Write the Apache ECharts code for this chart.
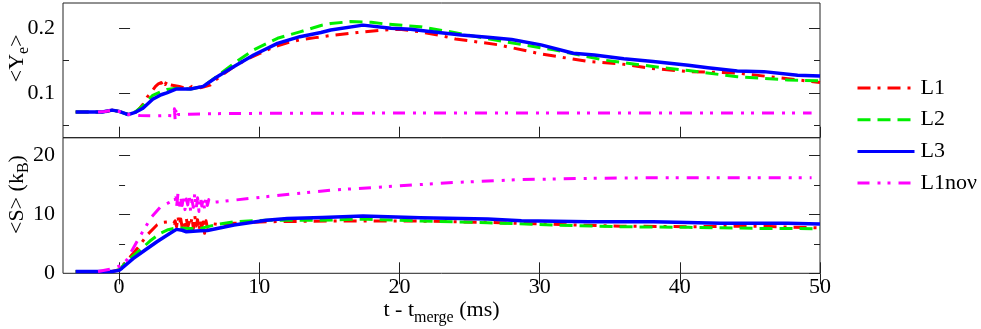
<!DOCTYPE html>
<html>
<head>
<meta charset="utf-8">
<script src="https://cdn.jsdelivr.net/npm/echarts@6/dist/echarts.min.js"></script>
<style>
html,body{margin:0;padding:0;background:#fff;}
#chart{width:981px;height:329px;}
</style>
</head>
<body>
<div id="chart"></div>
<script>
// ---------- data (t - t_merge in ms, value) ----------
const seriesNames = ['L1', 'L2', 'L3', 'L1noν'];

const xTickValues = [0, 10, 20, 30, 40, 50];
const yeMajorTicks = [0.1, 0.2];
const yeMinorTicks = [0.05, 0.15];
const sMajorTicks = [0, 10, 20];
const sMinorTicks = [5, 15];

// <Y_e>
const yeL1 = [[-3.1,0.07],[-1,0.07],[-0.5,0.073],[0,0.071],[0.7,0.066],[1.2,0.07],[1.4,0.074],[1.7,0.082],[2.0,0.093],
  [2.3,0.101],[2.6,0.11],[2.8,0.114],[3.0,0.116],[3.1,0.112],[3.2,0.117],[3.3,0.113],[3.4,0.118],[3.5,0.113],[3.6,0.116],
  [3.7,0.112],[3.8,0.115],[4.0,0.111],[4.3,0.11],[4.6,0.108],[4.8,0.11],[5.0,0.107],[5.2,0.11],[5.4,0.108],[5.6,0.11],
  [5.8,0.108],[6.0,0.109],[6.5,0.112],[7,0.122],[8,0.138],[9,0.151],[10,0.161],[11,0.171],[12,0.178],[13,0.183],[14,0.186],
  [15,0.189],[17,0.194],[19,0.198],[20,0.199],[21.5,0.195],[23,0.189],[24,0.184],[27,0.175],[30,0.161],[33.4,0.149],
  [35.8,0.145],[38,0.138],[40.6,0.133],[44,0.131],[47.7,0.122],[50,0.116]];
const yeL2 = [[-3.1,0.07],[-1.2,0.07],[-0.5,0.073],[0,0.071],[0.65,0.066],[1.2,0.071],[1.7,0.08],[2.4,0.096],[3.0,0.102],
  [3.4,0.105],[4.1,0.107],[5.1,0.106],[6.0,0.11],[7.0,0.126],[8.2,0.146],[9.6,0.167],[11.3,0.185],[12.9,0.195],[14.4,0.205],
  [15.1,0.208],[16.5,0.211],[18,0.21],[19.1,0.207],[21.5,0.203],[23.9,0.194],[27.4,0.18],[31,0.167],[34.6,0.151],
  [38.1,0.141],[40.6,0.1347],[44.1,0.125],[47.7,0.12],[50,0.1187]];
const yeL3 = [[-3.1,0.07],[-1.2,0.07],[-0.5,0.073],[0,0.071],[0.65,0.066],[1.2,0.07],[1.7,0.076],[2.4,0.09],[3.0,0.097],
  [3.4,0.1],[4.1,0.106],[5.1,0.106],[6.0,0.11],[7.0,0.125],[8.2,0.141],[9.6,0.159],[11.3,0.177],[12.9,0.1875],[14.4,0.194],
  [15.1,0.198],[17.4,0.2055],[19.4,0.2006],[20.8,0.199],[22,0.196],[24.4,0.19],[26.3,0.1867],[28,0.183],[30.1,0.1747],
  [32.4,0.1617],[33.9,0.159],[36,0.153],[38.1,0.1487],[40.6,0.143],[42,0.139],[44.1,0.134],[46,0.133],[48.4,0.1275],[50,0.126]];
const yeL1nonu = [[-1.5,0.07],[-1,0.071],[-0.5,0.073],[0,0.071],[0.7,0.066],[1.5,0.0645],[2.5,0.064],[3.5,0.0645],[3.9,0.064],
  [3.95,0.075],[4.0,0.058],[4.05,0.072],[4.1,0.062],[4.2,0.066],[5,0.0667],[7,0.0675],[10,0.068],[20,0.0684],[30,0.0684],
  [40,0.0684],[49.4,0.0684]];

// <S> (k_B)
const sL1 = [[-3.1,0.3],[-0.5,0.3],[0,0.6],[0.8,2.8],[1.4,4.5],[2.0,6.5],[2.7,8.2],[3.0,8.6],[3.64,8.75],[3.9,8.5],
  [4.0,8.9],[4.1,7.9],[4.2,9.6],[4.3,8.2],[4.4,9.2],[4.5,7.8],[4.6,8.8],[4.7,8.1],[4.8,9.3],[4.9,7.9],[5.0,8.6],[5.1,8.0],
  [5.2,9.5],[5.3,7.6],[5.4,9.8],[5.5,8.0],[5.6,9.1],[5.7,7.2],[5.8,9.0],[5.9,7.9],[6.0,8.7],[6.1,6.8],[6.2,8.9],[6.3,7.8],
  [6.4,8.5],[6.5,8.2],[7,8.3],[8.2,8.47],[10.5,8.75],[15,8.86],[21.5,8.86],[26.3,8.64],[31,8.3],[35.8,8.0],[40.6,7.9],
  [45.4,8.0],[50,7.7]];
const sL2 = [[-3.1,0.3],[-0.5,0.3],[0,0.6],[0.65,2.25],[1.5,3.95],[2.2,5.47],[2.93,6.78],[3.5,7.4],[4.1,7.73],[5.0,7.6],
  [5.8,7.6],[7,8.3],[8.2,8.75],[10.5,9.0],[14.4,9.0],[17.4,9.2],[21.5,8.86],[26.3,8.58],[31,8.19],[35.8,7.9],[40.6,7.8],
  [45.4,7.62],[50,7.56]];
const sL3 = [[-3.1,0.3],[-0.5,0.3],[0,0.5],[0.2,0.85],[1.0,2.5],[1.86,3.95],[2.7,5.36],[3.64,6.78],[4.1,7.45],[4.5,7.3],
  [4.8,7.05],[5.8,7.2],[6.3,7.25],[8.2,8.2],[10.5,9.0],[12,9.3],[14.5,9.45],[17.4,9.7],[21.5,9.43],[26.3,9.2],[28.7,8.9],
  [33.5,8.75],[38.1,8.75],[42.9,8.47],[47.7,8.47],[50,8.36]];
const sL1nonu = [[-1.5,0.3],[-0.64,0.68],[0,1.2],[0.55,2.25],[1.14,4.8],[1.74,7.3],[2.33,9.6],[2.93,11.2],[3.64,12.1],
  [4.0,12.8],[4.1,11.2],[4.2,13.5],[4.3,10.9],[4.4,12.9],[4.5,11.5],[4.6,13.2],[4.7,10.8],[4.8,12.6],[4.9,11.6],[5.0,13.3],
  [5.1,10.6],[5.2,12.4],[5.3,11.2],[5.4,13.6],[5.5,11.0],[5.6,12.8],[5.7,10.5],[5.8,13.0],[5.9,11.4],[6.0,12.6],[6.1,10.9],
  [6.2,13.1],[6.3,11.5],[6.4,12.5],[6.5,12.0],[7.0,12.1],[10.5,13.0],[15.1,14.1],[19.1,14.7],[23.9,15.4],[28.7,15.9],
  [33.5,16.1],[38.1,16.2],[42.9,16.2],[49.4,16.2]];

// ---------- styling ----------
const FONT = 'Liberation Serif';
const colors = ['#ff0000', '#00ee00', '#0000ff', '#ff00ff'];
const dashes = [[13, 7, 3, 7], [13, 7], 'solid', [12, 8, 3, 7, 3, 8]];
const widths = [3, 3, 3.5, 3];

const L = 63, R = 820, T = 3, MID = 137.7, B = 273.3;
const chartW = 981, chartH = 329;

function yAxis(grid, pos, min, max, ticks, len, labels, extra) {
  return Object.assign({
    type: 'value', gridIndex: grid, position: pos, min: min, max: max,
    axisLine: { show: false },
    splitLine: { show: false },
    axisTick: { show: true, inside: true, length: len, customValues: ticks, lineStyle: { color: '#222', width: 1 } },
    axisLabel: labels ? { show: true, customValues: ticks, fontFamily: FONT, fontSize: 22, color: '#000', margin: 8 } : { show: false }
  }, extra || {});
}
function xAxis(grid, pos, labels, extra) {
  return Object.assign({
    type: 'value', gridIndex: grid, position: pos, min: -4, max: 50,
    axisLine: { show: false },
    splitLine: { show: false },
    axisTick: { show: true, inside: true, length: 11, customValues: xTickValues, lineStyle: { color: '#222', width: 1 } },
    axisLabel: labels ? { show: true, customValues: xTickValues, fontFamily: FONT, fontSize: 22, color: '#000', margin: 3 } : { show: false }
  }, extra || {});
}

const subRich = {
  m: { fontFamily: FONT, fontSize: 22, color: '#000', lineHeight: 30 },
  s: { fontFamily: FONT, fontSize: 16, color: '#000', verticalAlign: 'bottom' }
};

const gridBase = { show: true, borderColor: '#222', borderWidth: 1, backgroundColor: 'transparent',
  containLabel: false, outerBoundsMode: 'none' };

const option = {
  animation: false,
  backgroundColor: '#fff',
  grid: [
    Object.assign({ left: L, top: T, width: R - L, height: MID - T }, gridBase),
    Object.assign({ left: L, top: MID, width: R - L, height: B - MID }, gridBase)
  ],
  xAxis: [
    xAxis(0, 'bottom', false),
    xAxis(1, 'bottom', true, {
      name: '{m|t - t}{s|merge}{m| (ms)}', nameLocation: 'middle', nameGap: 22, nameMoveOverlap: false,
      nameTextStyle: { rich: subRich }
    }),
    xAxis(1, 'top', false)
  ],
  yAxis: [
    yAxis(0, 'left', 0.03, 0.24, yeMajorTicks, 11, true, {
      name: '{m|<Y}{s|e}{m|>}', nameLocation: 'middle', nameRotate: 90, nameGap: 31, nameMoveOverlap: false,
      nameTextStyle: { rich: subRich, padding: [0, 0, 0, 24] }
    }),
    yAxis(0, 'left', 0.03, 0.24, yeMinorTicks, 6, false),
    yAxis(0, 'right', 0.03, 0.24, yeMajorTicks, 11, false),
    yAxis(0, 'right', 0.03, 0.24, yeMinorTicks, 6, false),
    yAxis(1, 'left', 0, 23, sMajorTicks, 11, true, {
      name: '{m|<S> (k}{s|B}{m|)}', nameLocation: 'middle', nameRotate: 90, nameGap: 31, nameMoveOverlap: false,
      nameTextStyle: { rich: subRich, padding: [0, 0, 0, 22] }
    }),
    yAxis(1, 'left', 0, 23, sMinorTicks, 6, false),
    yAxis(1, 'right', 0, 23, sMajorTicks, 11, false),
    yAxis(1, 'right', 0, 23, sMinorTicks, 6, false)
  ],
  legend: {
    orient: 'vertical', left: 851, top: 72, itemWidth: 57, itemHeight: 14, itemGap: 9.7,
    data: seriesNames,
    lineStyle: { width: 3 },
    itemStyle: { opacity: 0, borderWidth: 0 },
    textStyle: { fontFamily: FONT, fontSize: 22, color: '#000', lineHeight: 22, padding: [0, 0, 0, 1] }
  },
  series: []
};

const topData = [yeL1, yeL2, yeL3, yeL1nonu];
const botData = [sL1, sL2, sL3, sL1nonu];
seriesNames.forEach(function (name, i) {
  const ls = { color: colors[i], width: widths[i], type: dashes[i], cap: 'butt', join: 'round' };
  option.series.push({ name: name, type: 'line', xAxisIndex: 0, yAxisIndex: 0, data: topData[i],
    symbol: 'none', showSymbol: false, lineStyle: ls, itemStyle: { color: colors[i] }, z: 2 + i });
  option.series.push({ name: name, type: 'line', xAxisIndex: 1, yAxisIndex: 4, data: botData[i],
    symbol: 'none', showSymbol: false, lineStyle: ls, itemStyle: { color: colors[i] }, z: 2 + i });
});

const chart = echarts.init(document.getElementById('chart'), null, { renderer: 'canvas', width: chartW, height: chartH });
chart.setOption(option);
</script>
</body>
</html>
